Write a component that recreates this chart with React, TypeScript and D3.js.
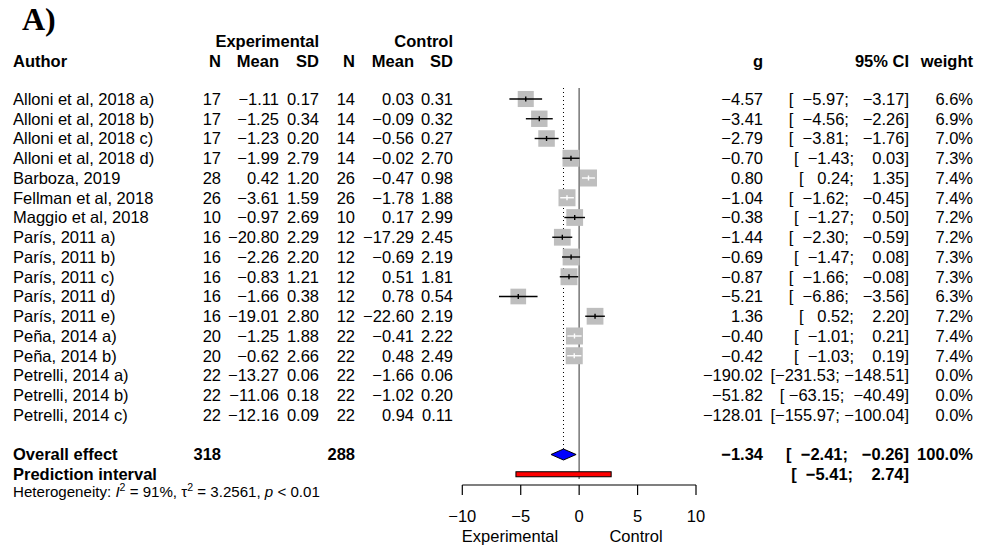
import React from "react";
import * as d3 from "d3";

const authors = [
  "Alloni et al, 2018 a)", "Alloni et al, 2018 b)", "Alloni et al, 2018 c)", "Alloni et al, 2018 d)",
  "Barboza, 2019", "Fellman et al, 2018", "Maggio et al, 2018",
  "París, 2011 a)", "París, 2011 b)", "París, 2011 c)", "París, 2011 d)", "París, 2011 e)",
  "Peña, 2014 a)", "Peña, 2014 b)", "Petrelli, 2014 a)", "Petrelli, 2014 b)", "Petrelli, 2014 c)",
];
const expN = [17, 17, 17, 17, 28, 26, 10, 16, 16, 16, 16, 16, 20, 20, 22, 22, 22];
const expMean = [-1.11, -1.25, -1.23, -1.99, 0.42, -3.61, -0.97, -20.8, -2.26, -0.83, -1.66, -19.01, -1.25, -0.62, -13.27, -11.06, -12.16];
const expSD = [0.17, 0.34, 0.2, 2.79, 1.2, 1.59, 2.69, 2.29, 2.2, 1.21, 0.38, 2.8, 1.88, 2.66, 0.06, 0.18, 0.09];
const ctlN = [14, 14, 14, 14, 26, 26, 10, 12, 12, 12, 12, 12, 22, 22, 22, 22, 22];
const ctlMean = [0.03, -0.09, -0.56, -0.02, -0.47, -1.78, 0.17, -17.29, -0.69, 0.51, 0.78, -22.6, -0.41, 0.48, -1.66, -1.02, 0.94];
const ctlSD = [0.31, 0.32, 0.27, 2.7, 0.98, 1.88, 2.99, 2.45, 2.19, 1.81, 0.54, 2.19, 2.22, 2.49, 0.06, 0.2, 0.11];
const gVal = [-4.57, -3.41, -2.79, -0.7, 0.8, -1.04, -0.38, -1.44, -0.69, -0.87, -5.21, 1.36, -0.4, -0.42, -190.02, -51.82, -128.01];
const ciLow = [-5.97, -4.56, -3.81, -1.43, 0.24, -1.62, -1.27, -2.3, -1.47, -1.66, -6.86, 0.52, -1.01, -1.03, -231.53, -63.15, -155.97];
const ciHigh = [-3.17, -2.26, -1.76, 0.03, 1.35, -0.45, 0.5, -0.59, 0.08, -0.08, -3.56, 2.2, 0.21, 0.19, -148.51, -40.49, -100.04];
const weights = [6.6, 6.9, 7.0, 7.3, 7.4, 7.4, 7.2, 7.2, 7.3, 7.3, 6.3, 7.2, 7.4, 7.4, 0.0, 0.0, 0.0];

const overallN = [318, 288];
const overallEffect = [-1.34, -2.41, -0.26];
const predictionInterval = [-5.41, 2.74];
const axisTicks = [-10, -5, 0, 5, 10];

const FONT = "'Liberation Sans', Arial, Helvetica, sans-serif";
const FS = 16.5;
const HFS = 15.1;

const fmt = (v: number) => v.toFixed(2).replace("-", "\u2212");
const fmtCI = (lo: number, hi: number) =>
  "[" + fmt(lo).padStart(7, " ") + "; " + fmt(hi).padStart(7, " ") + "]";

export default function App() {
  const x = d3.scaleLinear().domain([-10, 10]).range([462.3, 696]);
  const y = d3.scaleLinear().domain([0, 16]).range([99, 415]);
  const step = (y(16) - y(0)) / 16;
  const rowY = (i: number) => y(0) + i * step;
  const bl = (cy: number, fs = FS) => cy + 0.358 * fs;
  const maxW = d3.max(weights) as number;
  const boxSize = d3.scaleSqrt().domain([0, maxW]).range([0, 17]);

  const col = { author: 13, eN: 221, eMean: 279, eSD: 319, cN: 355, cMean: 414, cSD: 453, g: 763, ci: 909, w: 973 };
  const hdr1 = 41;
  const hdr2 = 61;
  const overallY = rowY(18);
  const predY = rowY(19);
  const hetY = 492;
  const axisY = 485;

  const T = (props: any) => (
    <text fontFamily={FONT} fontSize={FS} fill="#000" style={{ whiteSpace: "pre" }} {...props} />
  );

  const xIn = (v: number) => v >= -10 && v <= 10;

  return (
    <svg width={988} height={546} style={{ position: "fixed", left: 0, top: 0, background: "#fff" }}>
      <rect x={0} y={0} width={988} height={546} fill="#fff" />
      <text x={22} y={30} fontFamily="'Liberation Serif', 'Times New Roman', serif" fontWeight="bold" fontSize={32}>A)</text>

      {/* headers */}
      <T x={col.eSD} y={bl(hdr1)} textAnchor="end" fontWeight="bold">Experimental</T>
      <T x={col.cSD} y={bl(hdr1)} textAnchor="end" fontWeight="bold">Control</T>
      <T x={col.author} y={bl(hdr2)} fontWeight="bold">Author</T>
      {[["N", col.eN], ["Mean", col.eMean], ["SD", col.eSD], ["N", col.cN], ["Mean", col.cMean], ["SD", col.cSD], ["g", col.g], ["95% CI", col.ci], ["weight", col.w]].map(([t, cx], i) => (
        <T key={"h" + i} x={cx} y={bl(hdr2)} textAnchor="end" fontWeight="bold">{t}</T>
      ))}

      {/* reference lines */}
      <line x1={x(0)} x2={x(0)} y1={88} y2={479} stroke="#7f7f7f" strokeWidth={1.6} />
      <line x1={x(overallEffect[0])} x2={x(overallEffect[0])} y1={88} y2={overallY - 5} stroke="#000" strokeWidth={1} strokeDasharray="1,3" />

      {/* study rows */}
      {authors.map((a, i) => {
        const cy = rowY(i);
        const s = boxSize(weights[i]);
        const show = xIn(gVal[i]);
        const ciPx = x(ciHigh[i]) - x(ciLow[i]);
        const lineCol = ciPx < s ? "#fff" : "#000";
        return (
          <g key={i}>
            <T x={col.author} y={bl(cy)}>{a}</T>
            <T x={col.eN} y={bl(cy)} textAnchor="end">{expN[i]}</T>
            <T x={col.eMean} y={bl(cy)} textAnchor="end">{fmt(expMean[i])}</T>
            <T x={col.eSD} y={bl(cy)} textAnchor="end">{expSD[i].toFixed(2)}</T>
            <T x={col.cN} y={bl(cy)} textAnchor="end">{ctlN[i]}</T>
            <T x={col.cMean} y={bl(cy)} textAnchor="end">{fmt(ctlMean[i])}</T>
            <T x={col.cSD} y={bl(cy)} textAnchor="end">{ctlSD[i].toFixed(2)}</T>
            <T x={col.g} y={bl(cy)} textAnchor="end">{fmt(gVal[i])}</T>
            <T x={col.ci} y={bl(cy)} textAnchor="end">{fmtCI(ciLow[i], ciHigh[i])}</T>
            <T x={col.w} y={bl(cy)} textAnchor="end">{weights[i].toFixed(1) + "%"}</T>
            {show && s > 0 && (
              <g>
                <rect x={x(gVal[i]) - s / 2} y={cy - s / 2} width={s} height={s} fill="#bebebe" />
                <line x1={x(ciLow[i])} x2={x(ciHigh[i])} y1={cy} y2={cy} stroke={lineCol} strokeWidth={1.4} />
                <line x1={x(gVal[i])} x2={x(gVal[i])} y1={cy - 2.5} y2={cy + 2.5} stroke={lineCol} strokeWidth={1.4} />
              </g>
            )}
          </g>
        );
      })}

      {/* overall */}
      <T x={col.author} y={bl(overallY)} fontWeight="bold">Overall effect</T>
      <T x={col.eN} y={bl(overallY)} textAnchor="end" fontWeight="bold">{overallN[0]}</T>
      <T x={col.cN} y={bl(overallY)} textAnchor="end" fontWeight="bold">{overallN[1]}</T>
      <T x={col.g} y={bl(overallY)} textAnchor="end" fontWeight="bold">{fmt(overallEffect[0])}</T>
      <T x={col.ci} y={bl(overallY)} textAnchor="end" fontWeight="bold">{fmtCI(overallEffect[1], overallEffect[2])}</T>
      <T x={col.w} y={bl(overallY)} textAnchor="end" fontWeight="bold">100.0%</T>
      <path
        d={`M${x(overallEffect[1])},${overallY} L${x(overallEffect[0])},${overallY - 5.5} L${x(overallEffect[2])},${overallY} L${x(overallEffect[0])},${overallY + 5.5} Z`}
        fill="#0000ff" stroke="#000" strokeWidth={1}
      />

      {/* prediction interval */}
      <T x={col.author} y={bl(predY)} fontWeight="bold">Prediction interval</T>
      <T x={col.ci} y={bl(predY)} textAnchor="end" fontWeight="bold">{fmtCI(predictionInterval[0], predictionInterval[1])}</T>
      <rect x={x(predictionInterval[0])} y={predY - 2.5} width={x(predictionInterval[1]) - x(predictionInterval[0])} height={5} fill="#ff0000" stroke="#000" strokeWidth={1} />

      {/* heterogeneity */}
      <text x={col.author} y={bl(hetY, HFS)} fontFamily={FONT} fontSize={HFS}>
        <tspan>Heterogeneity: </tspan>
        <tspan fontStyle="italic">I</tspan>
        <tspan fontSize={HFS * 0.7} dy={-6}>2</tspan>
        <tspan dy={6}> = 91%, τ</tspan>
        <tspan fontSize={HFS * 0.7} dy={-6}>2</tspan>
        <tspan dy={6}> = 3.2561, </tspan>
        <tspan fontStyle="italic">p</tspan>
        <tspan> &lt; 0.01</tspan>
      </text>

      {/* axis */}
      <line x1={x(-10)} x2={x(10)} y1={axisY} y2={axisY} stroke="#000" strokeWidth={1.2} />
      {axisTicks.map((t) => (
        <g key={t}>
          <line x1={x(t)} x2={x(t)} y1={axisY} y2={axisY + 10} stroke="#000" strokeWidth={1.2} />
          <T x={x(t)} y={bl(516.5)} textAnchor="middle">{fmt(t).replace(".00", "")}</T>
        </g>
      ))}
      <T x={510} y={bl(536)} textAnchor="middle">Experimental</T>
      <T x={636} y={bl(536)} textAnchor="middle">Control</T>
    </svg>
  );
}
